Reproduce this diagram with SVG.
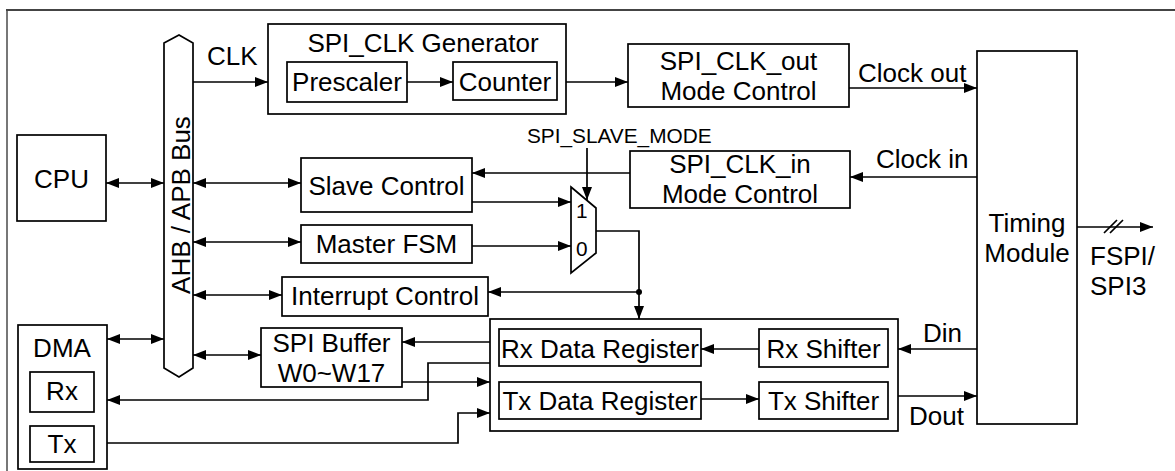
<svg xmlns="http://www.w3.org/2000/svg" width="1175" height="471" viewBox="0 0 1175 471">
<defs>
<style>
.box{fill:#fff;stroke:#000;stroke-width:1.7}
.w{fill:none;stroke:#000;stroke-width:1.7}
.t{font-family:"Liberation Sans",Arial,sans-serif;font-size:26px;fill:#000}
.m{text-anchor:middle}
.s{font-family:"Liberation Sans",Arial,sans-serif;font-size:20.8px;fill:#000}
</style>
<marker id="ah" markerUnits="userSpaceOnUse" markerWidth="13" markerHeight="10" refX="13" refY="5" orient="auto-start-reverse">
<path d="M0,0 L13,5 L0,10 z" fill="#000"/>
</marker>
</defs>
<rect width="1175" height="471" fill="#fff"/>
<path d="M7,471 V10" stroke="#777" stroke-width="2" fill="none"/>
<path d="M6,10 H1175" stroke="#444" stroke-width="2" fill="none"/>

<g id="bus">
<polygon class="box" points="164,43 179,35 193,43 193,368 179,377 164,368"/>
<text class="t m" transform="translate(190,205) rotate(-90)">AHB / APB Bus</text>
</g>
<g id="cpu">
<rect class="box" x="17" y="135" width="89" height="86"/>
<text class="t m" x="61.5" y="188">CPU</text>
</g>
<g id="spiclkgen">
<rect class="box" x="268" y="24" width="298" height="90"/>
<text class="t m" x="423" y="52">SPI_CLK Generator</text>
</g>
<g id="prescaler">
<rect class="box" x="287" y="62" width="120" height="40"/>
<text class="t m" x="347" y="91">Prescaler</text>
</g>
<g id="counter">
<rect class="box" x="453" y="62" width="104" height="38"/>
<text class="t m" x="505" y="91">Counter</text>
</g>
<g id="clkout">
<rect class="box" x="628" y="44" width="221" height="63"/>
<text class="t m" x="738.5" y="70">SPI_CLK_out</text>
<text class="t m" x="738.5" y="100">Mode Control</text>
</g>
<g id="clkin">
<rect class="box" x="630" y="151" width="220" height="57"/>
<text class="t m" x="740" y="173">SPI_CLK_in</text>
<text class="t m" x="740" y="203">Mode Control</text>
</g>
<g id="timing">
<rect class="box" x="977" y="51" width="100" height="373"/>
<text class="t m" x="1027" y="232">Timing</text>
<text class="t m" x="1027" y="262">Module</text>
</g>
<g id="slave">
<rect class="box" x="301" y="158" width="171" height="54"/>
<text class="t m" x="386.5" y="195">Slave Control</text>
</g>
<g id="master">
<rect class="box" x="301" y="225" width="171" height="38"/>
<text class="t m" x="386.5" y="253">Master FSM</text>
</g>
<g id="mux">
<polygon class="box" points="571,187 596,208 596,253 571,273"/>
<text class="s" x="576" y="218">1</text>
<text class="s" x="576" y="256">0</text>
</g>
<g id="interrupt">
<rect class="box" x="282" y="277" width="206" height="39"/>
<text class="t m" x="385" y="305">Interrupt Control</text>
</g>
<g id="spibuffer">
<rect class="box" x="261" y="328" width="141" height="59"/>
<text class="t m" x="331.5" y="352">SPI Buffer</text>
<text class="t m" x="331.5" y="382">W0~W17</text>
</g>
<g id="dma">
<rect class="box" x="18" y="325" width="89" height="144"/>
<text class="t m" x="62" y="357">DMA</text>
<rect class="box" x="30" y="372" width="64" height="40"/>
<text class="t m" x="62" y="400">Rx</text>
<rect class="box" x="30" y="426" width="64" height="36"/>
<text class="t m" x="62" y="453">Tx</text>
</g>
<g id="datablock">
<rect class="box" x="490" y="319" width="408" height="112"/>
</g>
<g id="rxdr">
<rect class="box" x="499" y="329" width="202" height="37"/>
<text class="t m" x="600" y="358">Rx Data Register</text>
</g>
<g id="txdr">
<rect class="box" x="499" y="382" width="202" height="37"/>
<text class="t m" x="600" y="410">Tx Data Register</text>
</g>
<g id="rxsh">
<rect class="box" x="759" y="329" width="129" height="38"/>
<text class="t m" x="823.5" y="358">Rx Shifter</text>
</g>
<g id="txsh">
<rect class="box" x="759" y="382" width="129" height="37"/>
<text class="t m" x="823.5" y="410">Tx Shifter</text>
</g>

<g id="connectors">
<path class="w" d="M106,183 H164" marker-start="url(#ah)" marker-end="url(#ah)"/>
<path class="w" d="M193,82 H268" marker-end="url(#ah)"/>
<path class="w" d="M407,82 H453" marker-end="url(#ah)"/>
<path class="w" d="M566,82 H628" marker-end="url(#ah)"/>
<path class="w" d="M849,88 H977" marker-end="url(#ah)"/>
<path class="w" d="M977,177 H850" marker-end="url(#ah)"/>
<path class="w" d="M630,173 H472" marker-end="url(#ah)"/>
<path class="w" d="M587,148 V200" marker-end="url(#ah)"/>
<path class="w" d="M193,183 H301" marker-start="url(#ah)" marker-end="url(#ah)"/>
<path class="w" d="M472,202 H571" marker-end="url(#ah)"/>
<path class="w" d="M193,242 H301" marker-start="url(#ah)" marker-end="url(#ah)"/>
<path class="w" d="M472,246 H571" marker-end="url(#ah)"/>
<path class="w" d="M596,231 H639 V319" marker-end="url(#ah)"/>
<path class="w" d="M639,292 H488" marker-end="url(#ah)"/>
<circle cx="639" cy="292" r="3" fill="#000"/>
<path class="w" d="M193,295 H282" marker-start="url(#ah)" marker-end="url(#ah)"/>
<path class="w" d="M193,355 H261" marker-start="url(#ah)" marker-end="url(#ah)"/>
<path class="w" d="M107,339 H164" marker-start="url(#ah)" marker-end="url(#ah)"/>
<path class="w" d="M490,342 H402" marker-end="url(#ah)"/>
<path class="w" d="M402,382 H490" marker-end="url(#ah)"/>
<path class="w" d="M490,363 H428 V400 H107" marker-end="url(#ah)"/>
<path class="w" d="M107,443 H458 V413 H490" marker-end="url(#ah)"/>
<path class="w" d="M759,349 H701" marker-end="url(#ah)"/>
<path class="w" d="M701,399 H759" marker-end="url(#ah)"/>
<path class="w" d="M977,349 H898" marker-end="url(#ah)"/>
<path class="w" d="M898,396 H977" marker-end="url(#ah)"/>
<path class="w" d="M1077,227 H1153" marker-end="url(#ah)"/>
<path class="w" d="M1104,233 L1117,220 M1110,233 L1123,220" stroke-width="1.3"/>
</g>

<g id="labels">
<text class="t" x="207" y="65">CLK</text>
<text class="t" x="858" y="82">Clock out</text>
<text class="t" x="876" y="168">Clock in</text>
<text class="s" x="527" y="143">SPI_SLAVE_MODE</text>
<text class="t" x="923" y="342">Din</text>
<text class="t" x="909" y="425">Dout</text>
<text class="t" x="1090" y="265">FSPI/</text>
<text class="t" x="1090" y="295">SPI3</text>
</g>
</svg>
